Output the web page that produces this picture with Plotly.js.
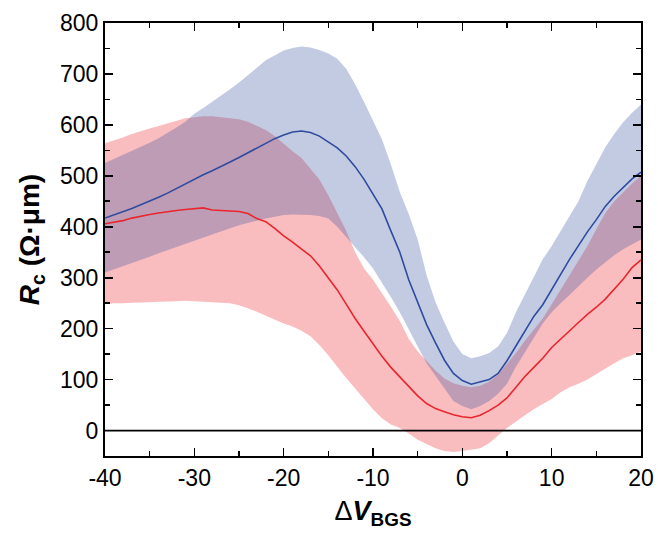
<!DOCTYPE html>
<html>
<head>
<meta charset="utf-8">
<script src="https://cdn.plot.ly/plotly-3.0.1.min.js"></script>
<style>html,body{margin:0;padding:0;background:#fff;}#chart{width:658px;height:538px;}</style>
</head>
<body>
<div id="chart"></div>
<script>
// Gate-voltage offset ΔV_BGS (V)
const dV = [-40,-39,-38,-37,-36,-35,-34,-33,-32,-31,-30,-29,-28,-27,-26,-25,-24,-23,-22,-21,-20,-19,-18,-17,-16,-15,-14,-13,-12,-11,-10,-9,-8,-7,-6,-5,-4,-3,-2,-1,0,1,2,3,4,5,6,7,8,9,10,11,12,13,14,15,16,17,18,19,20];

// Blue series: mean and band
const blueMid = [417,423,430,436,443,450,458,466,475,485,494,502,510,518,527,536,545,555,564,573,580,586,588,585,578,567,555,539,518,493,465,435,392,350,296,252,208,172,138,112,98,91,95,100,112,137,166,196,224,247,277,305,336,363,390,414,440,460,478,494,507];
const blueUp  = [525,533,540,548,556,565,574,584,595,606,622,633,645,657,670,683,697,712,727,737,746,751,754,752,747,740,730,710,680,645,610,572,522,468,425,375,305,252,212,175,150,142,146,152,165,192,232,266,300,336,362,392,420,450,490,522,556,582,605,624,640];
const blueLow = [310,316,322,328,335,341,348,354,360,366,372,378,385,391,397,403,408,412,416,420,423,424,424,423,421,416,400,378,360,340,318,290,262,232,200,165,132,108,82,58,48,42,48,58,72,92,125,152,182,210,232,250,266,282,300,316,330,344,356,366,375];

// Red series: mean and band
const redMid = [406,409,412,417,421,424,427,430,432,434,435,437,433,432,432,430,426,416,410,397,382,370,356,343,323,300,276,248,220,195,170,146,124,106,88,68,53,43,37,31,27,25,30,39,50,64,85,106,124,142,163,180,195,212,228,242,258,277,297,320,335];
const redUp  = [564,569,575,582,588,593,598,603,608,613,615,617,617,615,614,611,606,598,590,578,562,548,535,515,493,462,428,392,350,318,296,270,243,215,180,155,136,118,102,93,88,85,88,96,110,130,152,176,198,220,248,277,305,333,362,395,427,450,468,485,500];
const redLow = [248,250,250,251,252,252,253,254,254,255,255,254,253,251,250,246,240,233,226,218,210,204,196,185,168,148,125,103,82,62,42,24,12,5,-6,-18,-27,-35,-40,-42,-40,-38,-35,-25,-10,5,18,30,42,52,62,75,85,92,100,110,121,132,142,148,155];

// Axis ticks
const xTickVals = [-40,-30,-20,-10,0,10,20];
const xTickText = ['-40','-30','-20','-10','0','10','20'];
const yTickVals = [0,100,200,300,400,500,600,700,800];
const yTickText = ['0','100','200','300','400','500','600','700','800'];

function band(xs, up, low, color) {
  return {
    x: xs.concat(xs.slice().reverse()),
    y: up.concat(low.slice().reverse()),
    type: 'scatter', mode: 'lines', fill: 'toself',
    fillcolor: color, line: {width: 0, color: 'rgba(0,0,0,0)'},
    hoverinfo: 'skip', showlegend: false
  };
}

const traces = [
  band(dV, redUp, redLow, 'rgba(236,40,50,0.31)'),
  band(dV, blueUp, blueLow, 'rgba(55,82,162,0.30)'),
  {x: dV, y: redMid, type: 'scatter', mode: 'lines', line: {color: '#e8262e', width: 1.6}, showlegend: false},
  {x: dV, y: blueMid, type: 'scatter', mode: 'lines', line: {color: '#2f4b9f', width: 1.6}, showlegend: false}
];

const font = 'Liberation Sans, Arial, Helvetica, sans-serif';
const layout = {
  width: 658, height: 538,
  margin: {l: 105, r: 17, t: 23, b: 82},
  paper_bgcolor: '#fff', plot_bgcolor: '#fff',
  font: {family: font, color: '#000'},
  showlegend: false,
  xaxis: {
    range: [-40, 20], tickvals: xTickVals, ticktext: xTickText,
    ticks: 'inside', ticklen: 8, tickwidth: 1.6, tickcolor: '#000',
    minor: {dtick: 5, ticks: 'inside', ticklen: 5, tickwidth: 1.6, tickcolor: '#000', showgrid: false},
    showline: true, linewidth: 2, linecolor: '#000', mirror: 'ticks',
    showgrid: false, zeroline: false,
    tickfont: {size: 23, family: font, color: '#000'},
    title: {text: '<span style="font-weight:normal">Δ</span><b><i>V</i></b><b><sub>BGS</sub></b>', font: {size: 27, family: font, color: '#000'}, standoff: 12},
    automargin: false
  },
  yaxis: {
    range: [-50, 800], tickvals: yTickVals, ticktext: yTickText,
    ticks: 'inside', ticklen: 8, tickwidth: 1.6, tickcolor: '#000',
    minor: {dtick: 50, ticks: 'inside', ticklen: 5, tickwidth: 1.6, tickcolor: '#000', showgrid: false},
    showline: true, linewidth: 2, linecolor: '#000', mirror: 'ticks',
    showgrid: false, zeroline: false,
    tickfont: {size: 23, family: font, color: '#000'},
    title: {text: '<b><i>R</i><sub>c</sub> (Ω·μm)</b>', font: {size: 28, family: font, color: '#000'}, standoff: 12},
    automargin: false
  },
  shapes: [
    {type: 'line', xref: 'paper', yref: 'y', x0: 0, x1: 1, y0: 0, y1: 0, line: {color: '#000', width: 1.8}, layer: 'above'}
  ]
};

Plotly.newPlot('chart', traces, layout, {displayModeBar: false, staticPlot: true});
</script>
</body>
</html>
